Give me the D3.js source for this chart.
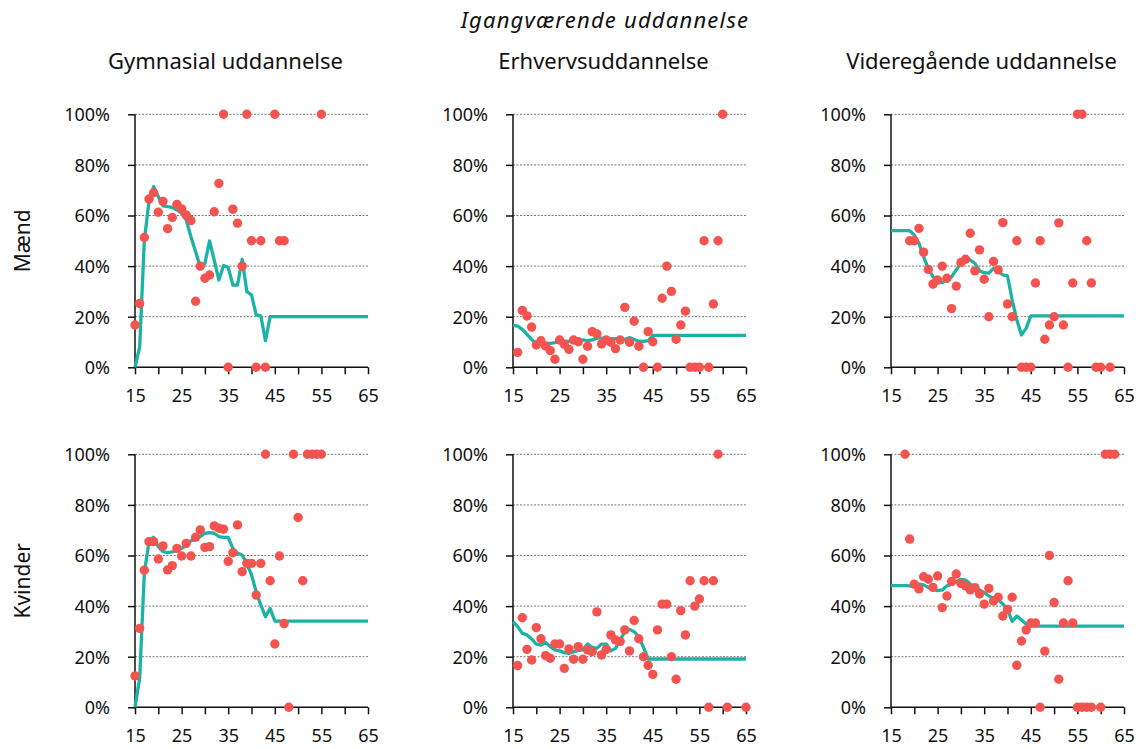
<!DOCTYPE html>
<html><head><meta charset="utf-8">
<script src="https://cdn.jsdelivr.net/npm/d3@7"></script>
<style>
body{margin:0;background:#fff;}
text{font-family:"Noto Sans",sans-serif;fill:#111;}
</style></head>
<body><svg id="c" width="1142" height="749"></svg>
<script>
const mainTitle = "Igangværende uddannelse";
const colTitles = ["Gymnasial uddannelse","Erhvervsuddannelse","Videregående uddannelse"];
const rowTitles = ["Mænd","Kvinder"];
const xTickVals = [15,20,25,30,35,40,45,50,55,60,65];
const xLabelVals = [15,25,35,45,55,65];
const yTickVals = [0,20,40,60,80,100];

// [age, percent]
const dotsMaendGym = [[15,16.7],[16,25.2],[17,51.3],[18,66.5],[19,69],[20,61.3],[21,65.6],[22,54.8],[23,59.2],[24,64.4],[25,62.6],[26,60.2],[27,58],[28,26.1],[29,40],[30,35.2],[31,36.5],[32,61.5],[33,72.7],[34,100],[35,0],[36,62.5],[37,57],[38,40],[39,100],[40,50],[41,0],[42,50],[43,0],[45,100],[46,50],[47,50],[55,100]];
const lineMaendGym = [[15,0],[16,8],[17,50],[18,65.5],[19,71.4],[20,67.5],[21,63.8],[22,63.5],[23,63.2],[24,62.2],[25,60.9],[26,58.2],[27,51.6],[28,45.7],[29,39.8],[30,41.1],[31,50],[32,42.4],[33,34.5],[34,40.2],[35,39.5],[36,32.5],[37,32.5],[38,42.7],[39,29.9],[40,28.6],[41,20.7],[42,20.3],[43,10.5],[44,20],[65,20]];

const dotsMaendErh = [[16,5.9],[17,22.5],[18,20.3],[19,15.9],[20,8.8],[21,10.5],[22,8.4],[23,6.6],[24,3.2],[25,10.8],[26,9.1],[27,7.1],[28,10.8],[29,10.1],[30,3.2],[31,8.3],[32,14.1],[33,13.2],[34,9.2],[35,10.8],[36,9.9],[37,7.4],[38,10.8],[39,23.7],[40,9.9],[41,18.2],[42,8.3],[43,0],[44,14.1],[45,10.1],[46,0],[47,27.3],[48,40],[49,30],[50,11.1],[51,16.7],[52,22.2],[53,0],[54,0],[55,0],[56,50],[57,0],[58,25],[59,50],[60,100]];
const lineMaendErh = [[15,16.6],[16,16.3],[17,15],[18,13],[19,11],[20,9.5],[21,9.2],[22,9.3],[23,9.5],[24,9.8],[25,10],[26,10.2],[27,10.2],[28,10.5],[29,10.8],[30,10.8],[31,10.5],[32,10.8],[33,11.5],[34,11.5],[35,11.5],[36,11.2],[37,11.3],[38,11.3],[39,11],[40,11.8],[41,11],[42,10.3],[43,10.2],[44,10.5],[45,12.6],[65,12.6]];

const dotsMaendVid = [[19,50],[20,50],[21,54.9],[22,45.5],[23,38.7],[24,32.9],[25,34.5],[26,40],[27,35.2],[28,23.2],[29,32.1],[30,41.4],[31,42.7],[32,53],[33,38.1],[34,46.4],[35,34.8],[36,20],[37,41.8],[38,38.5],[39,57.2],[40,25],[41,20],[42,50],[43,0],[44,0],[45,0],[46,33.3],[47,50],[48,11.1],[49,16.7],[50,20],[51,57.1],[52,16.7],[53,0],[54,33.3],[55,100],[56,100],[57,50],[58,33.3],[59,0],[60,0],[62,0]];
const lineMaendVid = [[15,54],[16,54],[17,54],[18,54],[19,54],[20,52.3],[21,49],[22,43.7],[23,39.1],[24,35.8],[25,33.5],[26,33.5],[27,34.5],[28,35.8],[29,38.5],[30,41.1],[31,43.1],[32,42.4],[33,41.1],[34,38.2],[35,37.4],[36,37.2],[37,39.1],[38,37.8],[39,36.5],[40,36.1],[41,26.6],[42,18.7],[43,12.8],[44,15.4],[45,20.3],[65,20.3]];

const dotsKvinderGym = [[15,12.4],[16,31.2],[17,54.2],[18,65.5],[19,65.5],[20,58.6],[21,63.8],[22,54.3],[23,56],[24,62.8],[25,59.8],[26,64.8],[27,59.8],[28,67.2],[29,70.1],[30,63.2],[31,63.5],[32,71.7],[33,70.8],[34,70.4],[35,57.7],[36,61.1],[37,72.1],[38,53.6],[39,56.9],[40,56.9],[41,44.4],[42,56.9],[43,100],[44,50],[45,25],[46,59.8],[47,33.1],[48,0],[49,100],[50,75],[51,50],[52,100],[53,100],[54,100],[55,100]];
const lineKvinderGym = [[15,0],[16,11.5],[17,53],[18,65.5],[19,67.2],[20,63.5],[21,61.5],[22,61.1],[23,61.4],[24,62.2],[25,62.8],[26,63.8],[27,65.9],[28,66.4],[29,67.5],[30,68.8],[31,69],[32,68.8],[33,67.5],[34,67.2],[35,67.2],[36,62.8],[37,60.9],[38,60.2],[39,56.9],[40,52.3],[41,45.7],[42,40.4],[43,35.8],[44,39.1],[45,34.1],[65,34.1]];

const dotsKvinderErh = [[16,16.5],[17,35.4],[18,22.9],[19,18.7],[20,31.5],[21,27.1],[22,20.4],[23,19.4],[24,25],[25,25],[26,15.4],[27,23.1],[28,19],[29,24],[30,19],[31,22.7],[32,22],[33,37.7],[34,20.7],[35,22.9],[36,28.6],[37,26.6],[38,26],[39,30.6],[40,22.3],[41,34.3],[42,27.1],[43,20],[44,16.6],[45,13],[46,30.6],[47,40.8],[48,40.8],[49,20],[50,11.1],[51,38.2],[52,28.6],[53,50],[54,40],[55,42.8],[56,50],[57,0],[58,50],[59,100],[61,0],[65,0]];
const lineKvinderErh = [[15,33.9],[16,31.9],[17,29.2],[18,28.6],[19,27],[20,25],[21,24.6],[22,25.6],[23,24],[24,22.7],[25,22.3],[26,21.6],[27,21.3],[28,22],[29,22.4],[30,22.7],[31,25],[32,23.7],[33,23.3],[34,25],[35,25],[36,22.3],[37,23.3],[38,26.6],[39,29.9],[40,30.8],[41,29.9],[42,27.9],[43,23.7],[44,19.1],[65,19.1]];

const dotsKvinderVid = [[18,100],[19,66.5],[20,48.7],[21,46.8],[22,51.6],[23,50.6],[24,47.4],[25,51.9],[26,39.4],[27,44],[28,49.7],[29,52.7],[30,49],[31,48],[32,46.4],[33,47.3],[34,44.8],[35,40.8],[36,47],[37,42],[38,43.5],[39,36.1],[40,38.7],[41,43.5],[42,16.6],[43,26.2],[44,30.6],[45,33.3],[46,33.3],[47,0],[48,22.2],[49,60],[50,41.4],[51,11.1],[52,33.3],[53,50],[54,33.3],[55,0],[56,0],[57,0],[58,0],[60,0],[61,100],[62,100],[63,100]];
const lineKvinderVid = [[15,48.1],[16,48.1],[17,48.1],[18,48.1],[19,48],[20,47.7],[21,48.7],[22,48.4],[23,47.4],[24,46.6],[25,46.1],[26,46.4],[27,48],[28,48.7],[29,49.7],[30,50.6],[31,50.3],[32,48.7],[33,47.7],[34,46.4],[35,45.3],[36,44],[37,43.1],[38,42.4],[39,40.8],[40,38.7],[41,33.9],[42,36.1],[43,34.5],[44,32.9],[45,32.1],[65,32.1]];

const panels = [
  [ {dots:dotsMaendGym, line:lineMaendGym}, {dots:dotsMaendErh, line:lineMaendErh}, {dots:dotsMaendVid, line:lineMaendVid} ],
  [ {dots:dotsKvinderGym, line:lineKvinderGym}, {dots:dotsKvinderErh, line:lineKvinderErh}, {dots:dotsKvinderVid, line:lineKvinderVid} ]
];

const svg = d3.select("#c");
const colX = [135, 513, 891];
const rowY = [114.3, 454.3];
const W = 233, H = 253;
const dotColor = "#f5534f", lineColor = "#1ab3a6";

svg.append("text").attr("x", 605).attr("y", 28).attr("text-anchor","middle")
  .style("font-size","22px").style("letter-spacing","1.2px").style("font-style","italic").text(mainTitle);
colTitles.forEach((t,i)=>{
  svg.append("text").attr("x", colX[i]+W/2-26).attr("y", 69).attr("text-anchor","middle")
    .style("font-size","22px").text(t);
});
rowTitles.forEach((t,j)=>{
  svg.append("text").attr("transform",`translate(30,${rowY[j]+H/2}) rotate(-90)`)
    .attr("text-anchor","middle").style("font-size","21px").text(t);
});

panels.forEach((row,j)=>{
  row.forEach((p,i)=>{
    const g = svg.append("g").attr("transform",`translate(${colX[i]},${rowY[j]})`);
    const x = d3.scaleLinear().domain([15,65]).range([0,W]);
    const y = d3.scaleLinear().domain([0,100]).range([H,0]);
    // grid
    g.selectAll(".grid").data(yTickVals.filter(v=>v>0)).enter().append("line")
      .attr("x1",0).attr("x2",W).attr("y1",d=>y(d)).attr("y2",d=>y(d))
      .attr("stroke","#777").attr("stroke-width",1).attr("stroke-dasharray","2,1.5");
    // y axis
    const ya = g.append("g").call(d3.axisLeft(y).tickValues(yTickVals).tickSize(7).tickFormat(d=>d+"%"));
    ya.select(".domain").remove();
    ya.selectAll(".tick line").attr("stroke","#111").attr("stroke-width",1.5);
    ya.selectAll(".tick text").attr("x",-25).attr("dy","0.35em").style("font-size","18px").style("font-family","'Noto Sans',sans-serif").attr("fill","#111");
    g.append("line").attr("x1",0).attr("x2",0).attr("y1",0).attr("y2",H).attr("stroke","#111").attr("stroke-width",1.5);
    // x axis
    const xa = g.append("g").attr("transform",`translate(0,${H})`)
      .call(d3.axisBottom(x).tickValues(xTickVals).tickSize(7).tickFormat(d=>xLabelVals.includes(d)?d:""));
    xa.select(".domain").remove();
    xa.selectAll(".tick line").attr("stroke","#111").attr("stroke-width",1.5);
    xa.selectAll(".tick text").attr("y",22).style("font-size","18px").style("font-family","'Noto Sans',sans-serif").attr("fill","#111");
    g.append("line").attr("x1",0).attr("x2",W).attr("y1",H).attr("y2",H).attr("stroke","#111").attr("stroke-width",1.5);
    // line
    g.append("path").datum(p.line)
      .attr("d", d3.line().x(d=>x(d[0])).y(d=>y(d[1])))
      .attr("fill","none").attr("stroke",lineColor).attr("stroke-width",3.3).attr("stroke-linejoin","round");
    // dots
    g.selectAll(".dot").data(p.dots).enter().append("circle")
      .attr("cx",d=>x(d[0])).attr("cy",d=>y(d[1])).attr("r",4.7).attr("fill",dotColor);
  });
});
</script></body></html>
